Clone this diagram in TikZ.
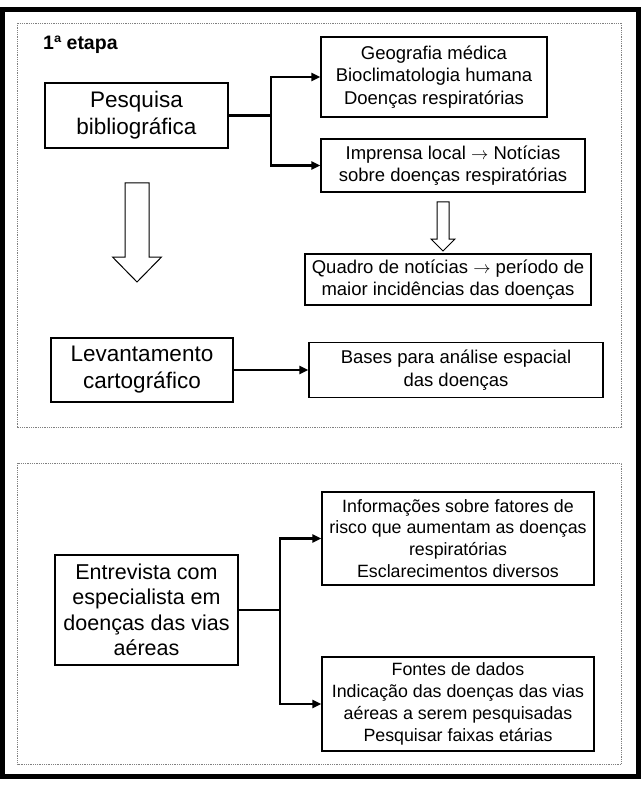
\documentclass[tikz,border=0pt]{standalone}
\usepackage{fontspec}
\setmainfont{Liberation Sans}
\usetikzlibrary{arrows.meta}
\begin{document}
\begin{tikzpicture}[x=1pt,y=-1pt,
  box/.style={draw, line width=1.2pt, align=center, inner sep=0pt,
    font=\fontsize{18.5}{22.5}\selectfont},
  lowbox/.style={box, font=\fontsize{17.8}{21.8}\selectfont},
  bigbox/.style={box, font=\fontsize{22.5}{27}\selectfont},
  lowbigbox/.style={box, font=\fontsize{21.5}{25.5}\selectfont},
  conn/.style={line width=2.4pt, -{Triangle[length=9pt,width=8pt]}},
  plainconn/.style={line width=2.4pt},
  hollow/.style={draw, line width=1pt, fill=white},
  dotbox/.style={draw=gray, line width=0.9pt, dash pattern=on 0.9pt off 0.9pt},
  frame/.style={draw, line width=4.8pt}]
\useasboundingbox (0,0) rectangle (643,786);
% outer frame and stage boxes
\draw[frame] (2.3,9.2) rectangle (638.5,776.5);
\draw[dotbox] (17.5,23) rectangle (621.5,427);
\draw[dotbox] (17.5,463) rectangle (621.5,764);
% title
\node[anchor=base west, inner sep=0pt, font=\bfseries\fontsize{19.5}{23}\selectfont] (title) at (43,50) {1ª etapa};
% stage 1 nodes
\node[box, minimum width=226pt, minimum height=80pt] (geo) at (434,77)
  {Geografia médica\\Bioclimatologia humana\\Doenças respiratórias};
\node[bigbox, minimum width=183pt, minimum height=65pt] (pesq) at (136.5,115.5)
  {Pesquisa\\bibliográfica};
\node[box, minimum width=264pt, minimum height=53pt] (impr) at (453,165.5)
  {Imprensa local $\rightarrow$ Notícias\\sobre doenças respiratórias};
\node[box, minimum width=286pt, minimum height=51pt] (quadro) at (448,279.5)
  {Quadro de notícias $\rightarrow$ período de\\maior incidências das doenças};
\node[bigbox, minimum width=182pt, minimum height=64pt] (levant) at (142,370)
  {Levantamento\\cartográfico};
\node[box, minimum width=294pt, minimum height=55pt] (bases) at (456,370)
  {Bases para análise espacial\\das doenças};
% stage 2 nodes
\node[lowbox, minimum width=272pt, minimum height=93pt] (info) at (458,538.5)
  {Informações sobre fatores de\\risco que aumentam as doenças\\respiratórias\\Esclarecimentos diversos};
\node[lowbigbox, minimum width=183pt, minimum height=110pt] (entre) at (146.5,610)
  {Entrevista com\\especialista em\\doenças das vias\\aéreas};
\node[lowbox, minimum width=272pt, minimum height=94pt] (fontes) at (458,704)
  {Fontes de dados\\Indicação das doenças das vias\\aéreas a serem pesquisadas\\Pesquisar faixas etárias};
% connectors
\coordinate (j1) at (271,115.5);
\draw[plainconn] (pesq.east) -- (j1);
\draw[conn] (j1) |- (geo.west);
\draw[conn] (j1) |- (impr.west);
\draw[conn] (levant.east) -- (levant.east -| bases.west);
\coordinate (j2) at (280,610);
\draw[plainconn] (entre.east) -- (j2);
\draw[conn] (j2) |- (info.west);
\draw[conn] (j2) |- (fontes.west);
% hollow arrows
\draw[hollow] (125,183) -- (149,183) -- (149,257) -- (161.5,257) -- (137,282) -- (112.5,257) -- (125,257) -- cycle;
\draw[hollow] (437,202) -- (449,202) -- (449,239) -- (455,239) -- (443,251) -- (431,239) -- (437,239) -- cycle;
\end{tikzpicture}
\end{document}
